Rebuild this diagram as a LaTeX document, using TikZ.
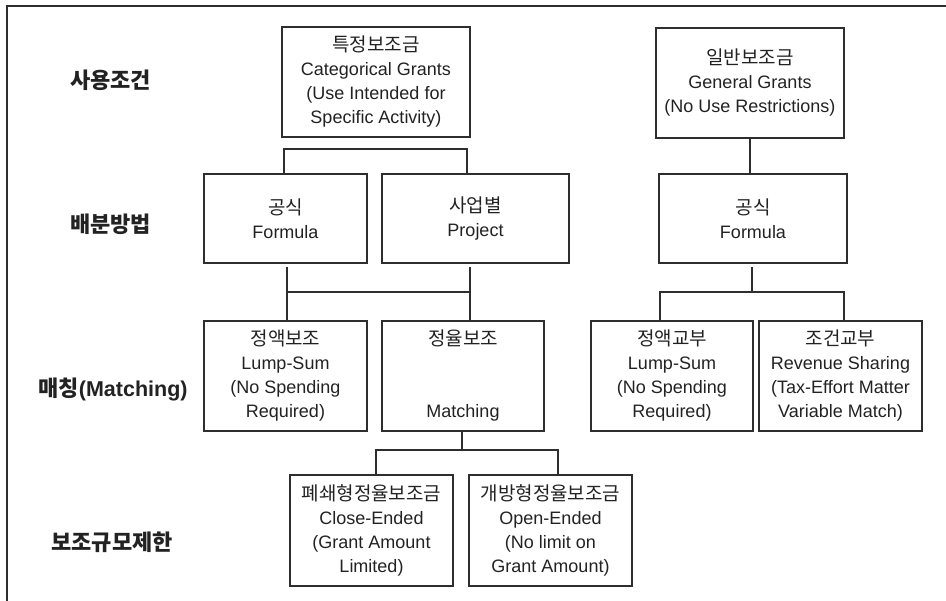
\documentclass[tikz,border=0pt]{standalone}
\usepackage{fontspec}
\setmainfont{Liberation Sans}
\newfontfamily\kr{Noto Sans CJK KR}
\usetikzlibrary{calc}
\definecolor{ink}{HTML}{222222}
\definecolor{linecol}{HTML}{2E2E2E}
\tikzset{
  box/.style={draw=linecol, line width=1.8pt, rectangle, inner sep=0pt, outer sep=0pt,
    align=center, text=ink, font=\fontsize{18}{24}\selectfont},
  conn/.style={draw=linecol, line width=1.6pt},
  lab/.style={text=ink, font=\kr\bfseries\fontsize{22}{24}\selectfont},
  frame/.style={draw=linecol, line width=2pt},
}
\newcommand{\K}[1]{{\kr\fontsize{19}{24}\selectfont #1}}
\begin{document}
\begin{tikzpicture}[x=1pt,y=-1pt]
\useasboundingbox (0,0) rectangle (946,601);
\draw[frame] (7,601) -- (7,6) -- (946,6);

% row labels
\node[lab] (l1) at (110.5,80) {사용조건};
\node[lab] (l2) at (110.5,224) {배분방법};
\node[lab] (l3) at (113,389) {매칭{\rmfamily\bfseries\fontsize{21.5}{24}\selectfont(Matching)}};
\node[lab] (l4) at (112,542) {보조규모제한};

% top row
\node[box, minimum width=188, minimum height=110] (cat) at (376,82)
  {\K{특정보조금}\\Categorical Grants\\(Use Intended for\\Specific Activity)};
\node[box, minimum width=188, minimum height=110] (gen) at (750,83)
  {\K{일반보조금}\\General Grants\\(No Use Restrictions)};

% second row
\node[box, minimum width=163, minimum height=89] (fL) at (285.5,218.5)
  {\K{공식}\\Formula};
\node[box, minimum width=187, minimum height=89] (proj) at (475.5,218.5)
  {\K{사업별}\\Project};
\node[box, minimum width=188, minimum height=89] (fR) at (753,218.5)
  {\K{공식}\\Formula};

% third row
\node[box, minimum width=163, minimum height=110] (lsL) at (285.5,376)
  {\K{정액보조}\\Lump-Sum\\(No Spending\\Required)};
\node[box, minimum width=162, minimum height=110] (mat) at (463,376)
  {\K{정율보조}\\[48pt]Matching};
\node[box, minimum width=162, minimum height=110] (lsR) at (672,376)
  {\K{정액교부}\\Lump-Sum\\(No Spending\\Required)};
\node[box, minimum width=163, minimum height=110] (rev) at (840.5,376)
  {\K{조건교부}\\Revenue Sharing\\(Tax-Effort Matter\\Variable Match)};

% fourth row
\node[box, minimum width=163, minimum height=111] (close) at (371.5,530.5)
  {\K{폐쇄형정율보조금}\\Close-Ended\\(Grant Amount\\Limited)};
\node[box, minimum width=163, minimum height=111] (open) at (550.5,530.5)
  {\K{개방형정율보조금}\\Open-Ended\\(No limit on\\Grant Amount)};

% connectors: categorical -> formula / project
\draw[conn] ($(fL.north)+(-1.5,0)$) -- ++(0,-25) -- ($(proj.north)+(-8.5,-25)$) -- ($(proj.north)+(-8.5,0)$);

% general -> formula
\draw[conn] (gen.south) -- (gen.south |- fR.north);

% formula / project -> lump-sum / matching
\draw[conn] ($(fL.south)+(1.5,4)$) -- ($(lsL.north)+(1.5,0)$);
\draw[conn] ($(proj.south)+(-5.5,4)$) -- ($(mat.north)+(7,0)$);
\draw[conn] ($(lsL.north)+(1.5,-29)$) -- ($(mat.north)+(7,-29)$);

% formula (right) -> lump-sum / revenue sharing
\draw[conn] ($(fR.south)+(-1,4)$) -- ($(fR.south)+(-1,29)$);
\draw[conn] ($(lsR.north)+(-12,0)$) -- ($(lsR.north)+(-12,-29)$) -- ($(rev.north)+(3.5,-29)$) -- ($(rev.north)+(3.5,0)$);

% matching -> close / open
\draw[conn] ($(mat.south)+(-1,0)$) -- ($(mat.south)+(-1,19)$);
\draw[conn] ($(close.north)+(4.5,0)$) -- ($(close.north)+(4.5,-25)$) -- ($(open.north)+(7.5,-25)$) -- ($(open.north)+(7.5,0)$);
\end{tikzpicture}
\end{document}
